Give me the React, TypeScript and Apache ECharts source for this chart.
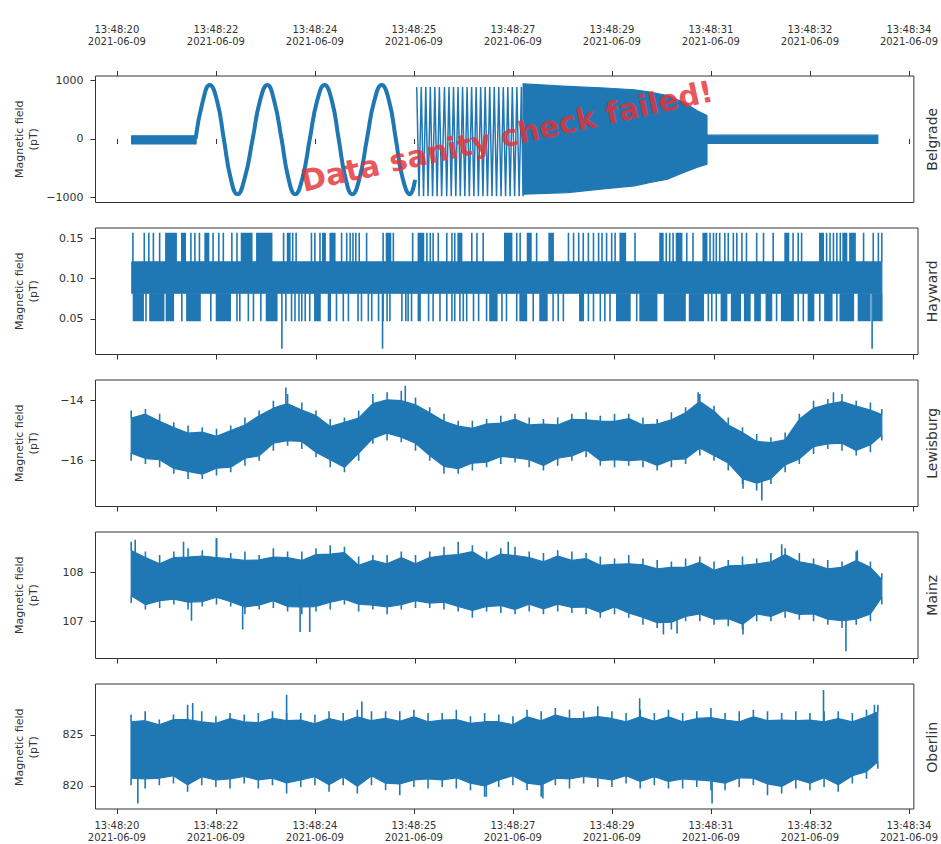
import React, { useEffect, useRef } from "react";
import * as echarts from "echarts";

// ---------- axis ticks ----------
const tickTimes = [20, 21.75, 23.5, 25.25, 27, 28.75, 30.5, 32.25, 34]; // seconds after 13:48:00
const tickLabels = ["13:48:20", "13:48:22", "13:48:24", "13:48:25", "13:48:27", "13:48:29", "13:48:31", "13:48:32", "13:48:34"];
const tickDate = "2021-06-09";

const stations = ["Belgrade", "Hayward", "Lewisburg", "Mainz", "Oberlin"];
const yTicks = [[-1000, 0, 1000], [0.05, 0.1, 0.15], [-16, -14], [107, 108], [820, 825]];
const yTickLabels = [["\u22121000", "0", "1000"], ["0.05", "0.10", "0.15"], ["\u221216", "\u221214"], ["107", "108"], ["820", "825"]];
const yMin = [-1091, 0.0054, -17.53, 106.24, 817.74];
const yMax = [1081, 0.1633, -13.31, 108.82, 830.0];

// ---------- Belgrade ----------
const belgradeFlat1Times = [20.26, 21.4];
const belgradeFlat1Upper = [55, 55];
const belgradeFlat1Lower = [-85, -85];
const belgradeSineTimes = [21.39, 21.52, 21.64, 21.77, 21.89, 22.01, 22.13, 22.26, 22.4, 22.53, 22.66, 22.78, 22.91, 23.03, 23.15, 23.28, 23.41, 23.54, 23.67, 23.8, 23.92, 24.04, 24.16, 24.29, 24.42, 24.55, 24.68, 24.81, 24.93, 25.05, 25.18, 25.27];
const belgradeSineValues = [0, 655, 925, 655, 0, -670, -950, -670, 0, 655, 925, 655, 0, -670, -950, -670, 0, 655, 925, 655, 0, -670, -950, -670, 0, 655, 925, 655, 0, -670, -950, -700];
const belgradeHfTimes = [25.3, 25.34, 25.38, 25.42, 25.46, 25.5, 25.54, 25.58, 25.62, 25.66, 25.7, 25.74, 25.79, 25.83, 25.87, 25.91, 25.95, 25.99, 26.03, 26.07, 26.11, 26.15, 26.19, 26.23, 26.27, 26.31, 26.35, 26.39, 26.43, 26.47, 26.51, 26.55, 26.59, 26.63, 26.67, 26.71, 26.75, 26.79, 26.83, 26.87, 26.91, 26.95, 26.99, 27.03, 27.07, 27.11, 27.15, 27.18];
const belgradeHfValues = [890, -985, 890, -985, 890, -985, 890, -985, 890, -985, 890, -985, 890, -985, 890, -985, 890, -985, 890, -985, 890, -985, 890, -985, 890, -985, 890, -985, 890, -985, 890, -985, 890, -985, 890, -985, 890, -985, 890, -985, 890, -985, 890, -985, 890, -985, 890, -985];
const belgradeDenseTimes = [27.18, 27.97, 28.55, 29.15, 29.43, 29.73, 30.02, 30.25, 30.43];
const belgradeDenseUpper = [948, 902, 879, 845, 803, 746, 631, 488, 402];
const belgradeDenseLower = [-948, -921, -862, -805, -748, -690, -576, -490, -431];
const belgradeFlat2Times = [30.44, 33.45];
const belgradeFlat2Upper = [65, 65];
const belgradeFlat2Lower = [-78, -78];

// ---------- Hayward ----------
const haywardBandTimes = [20.26, 33.45];
const haywardBandLower = [0.082, 0.082];
const haywardBandUpper = [0.121, 0.121];
const haywardLevels = { deep: 0.0125, low: 0.047, bandLow: 0.082, bandHigh: 0.121, high: 0.1575 };
const haywardHighBlocks = [
  [20.28, 20.28], [20.48, 20.48], [20.56, 20.56], [20.64, 20.64], [20.75, 20.75], [20.86, 21.04], [21.14, 21.2], [21.3, 21.3], [21.37, 21.37], [21.45, 21.45], [21.55, 21.61], [21.69, 21.69], [21.79, 21.79], [21.87, 21.87], [22.02, 22.02], [22.11, 22.11], [22.19, 22.37], [22.46, 22.72], [22.93, 22.93], [23.0, 23.04], [23.09, 23.09], [23.15, 23.15], [23.42, 23.42], [23.48, 23.48], [23.57, 23.57], [23.62, 23.66], [23.75, 23.83], [23.95, 23.95], [24.04, 24.04], [24.1, 24.1], [24.15, 24.15], [24.2, 24.2], [24.26, 24.26], [24.39, 24.39], [24.68, 24.68], [24.74, 24.81], [24.86, 24.86], [25.2, 25.2], [25.3, 25.39], [25.45, 25.45], [25.51, 25.51], [25.56, 25.56], [25.65, 25.65], [25.8, 25.8], [25.89, 25.89], [25.94, 25.94], [26.0, 26.06],
  [26.24, 26.24], [26.33, 26.33], [26.44, 26.44], [26.82, 26.94], [27.03, 27.03], [27.09, 27.09], [27.22, 27.28], [27.38, 27.38], [27.6, 27.67], [27.94, 27.94], [28.03, 28.03], [28.12, 28.12], [28.2, 28.2], [28.29, 28.29], [28.38, 28.38], [28.47, 28.47], [28.53, 28.53], [28.61, 28.61], [28.7, 28.7], [28.76, 28.76], [28.85, 28.94], [29.11, 29.11], [29.55, 29.6], [29.66, 29.66], [29.72, 29.72], [29.78, 29.78], [29.84, 29.93], [30.02, 30.02], [30.13, 30.13], [30.31, 30.37], [30.43, 30.43], [30.49, 30.49], [30.54, 30.54], [30.6, 30.6], [30.69, 30.69], [30.75, 30.75], [30.84, 30.84], [30.9, 30.9], [30.99, 30.99], [31.07, 31.07], [31.25, 31.25], [31.37, 31.37], [31.54, 31.54], [31.75, 31.81], [31.89, 31.89], [31.98, 31.98], [32.04, 32.04], [32.36, 32.42], [32.48, 32.48], [32.54, 32.54], [32.6, 32.6], [32.66, 32.66], [32.72, 32.72], [32.77, 32.83], [32.89, 32.98], [33.13, 33.13], [33.3, 33.3], [33.39, 33.39], [33.45, 33.45],
];
const haywardLowBlocks = [
  [20.29, 20.46], [20.51, 20.51], [20.58, 20.82], [20.87, 20.99], [21.14, 21.14], [21.23, 21.46], [21.65, 21.65], [21.75, 21.99], [22.11, 22.11], [22.16, 22.16], [22.31, 22.31], [22.4, 22.4], [22.53, 22.53], [22.63, 22.81], [22.97, 22.97], [23.07, 23.07], [23.13, 23.13], [23.2, 23.2], [23.25, 23.25], [23.31, 23.31], [23.39, 23.39], [23.48, 23.57], [23.72, 23.75], [23.86, 23.86], [23.98, 23.98], [24.07, 24.07], [24.24, 24.24], [24.3, 24.3], [24.42, 24.42], [24.48, 24.48], [24.6, 24.6], [24.68, 24.68], [24.75, 24.75], [24.8, 24.8], [25.01, 25.01], [25.08, 25.08], [25.12, 25.12], [25.18, 25.18], [25.3, 25.33], [25.48, 25.48], [25.56, 25.56], [25.68, 25.68], [25.8, 25.8], [25.89, 25.89], [25.94, 25.94], [26.03, 26.03], [26.09, 26.09], [26.15, 26.15],
  [26.27, 26.27], [26.36, 26.36], [26.5, 26.5], [26.56, 26.68], [26.77, 26.77], [26.85, 26.85], [27.03, 27.03], [27.09, 27.2], [27.32, 27.32], [27.44, 27.56], [27.67, 27.67], [27.76, 27.76], [27.85, 27.85], [28.14, 28.2], [28.29, 28.29], [28.38, 28.38], [28.5, 28.5], [28.58, 28.58], [28.67, 28.67], [28.79, 29.02], [29.14, 29.14], [29.2, 29.49], [29.63, 29.99], [30.07, 30.31], [30.4, 30.4], [30.46, 30.46], [30.54, 30.54], [30.63, 30.72], [30.81, 30.96], [31.04, 31.13], [31.22, 31.31], [31.42, 31.51], [31.6, 31.6], [31.69, 31.89], [31.98, 31.98], [32.07, 32.07], [32.16, 32.25], [32.36, 32.36], [32.45, 32.57], [32.66, 32.66], [32.72, 32.95], [33.04, 33.24], [33.3, 33.45],
];
const haywardDeepTimes = [22.9, 24.67, 33.28];

// ---------- common sampling grid for the noisy stations ----------
const gridTime = [20.25, 20.5, 20.75, 21.0, 21.25, 21.5, 21.75, 22.0, 22.25, 22.5, 22.75, 23.0, 23.25, 23.5, 23.75, 24.0, 24.25, 24.5, 24.75, 25.0, 25.25, 25.5, 25.75, 26.0, 26.25, 26.5, 26.75, 27.0, 27.25, 27.5, 27.75, 28.0, 28.25, 28.5, 28.75, 29.0, 29.25, 29.5, 29.75, 30.0, 30.25, 30.5, 30.75, 31.0, 31.25, 31.5, 31.75, 32.0, 32.25, 32.5, 32.75, 33.0, 33.25, 33.45];

// ---------- Lewisburg (spike tips and solid core) ----------
const lewisburgUpper = [-14.33, -14.28, -14.44, -14.72, -14.83, -14.89, -14.94, -14.83, -14.56, -14.33, -14.0, -13.78, -14.06, -14.33, -14.61, -14.56, -14.33, -13.78, -13.72, -13.67, -13.89, -14.22, -14.44, -14.67, -14.67, -14.61, -14.5, -14.44, -14.56, -14.61, -14.56, -14.44, -14.39, -14.5, -14.44, -14.44, -14.56, -14.61, -14.39, -14.22, -13.78, -14.17, -14.56, -14.89, -15.11, -15.22, -15.06, -14.44, -14.0, -13.94, -13.78, -14.0, -14.06, -14.28];
const lewisburgLower = [-16.0, -16.11, -16.22, -16.44, -16.61, -16.61, -16.5, -16.39, -16.17, -16.0, -15.67, -15.5, -15.61, -15.89, -16.22, -16.39, -16.0, -15.44, -15.33, -15.39, -15.67, -16.0, -16.44, -16.44, -16.33, -16.22, -16.11, -16.06, -16.22, -16.33, -16.17, -16.0, -15.89, -16.17, -16.22, -16.17, -16.22, -16.33, -16.22, -16.11, -15.83, -16.0, -16.33, -16.78, -17.0, -16.78, -16.39, -16.11, -15.78, -15.61, -15.67, -15.83, -15.72, -15.33];
const lewisburgCoreUpper = [-14.58, -14.45, -14.69, -14.9, -15.08, -15.05, -15.19, -15.0, -14.81, -14.5, -14.25, -14.1, -14.31, -14.5, -14.86, -14.72, -14.58, -14.1, -13.97, -14.0, -14.14, -14.4, -14.69, -14.85, -14.92, -14.78, -14.75, -14.62, -14.81, -14.78, -14.81, -14.62, -14.64, -14.68, -14.69, -14.6, -14.81, -14.78, -14.64, -14.4, -14.03, -14.35, -14.81, -15.06, -15.36, -15.4, -15.31, -14.62, -14.25, -14.12, -14.03, -14.18, -14.31, -14.46];
const lewisburgCoreLower = [-15.75, -15.93, -15.97, -16.26, -16.36, -16.45, -16.25, -16.22, -15.92, -15.84, -15.42, -15.33, -15.36, -15.72, -15.97, -16.22, -15.75, -15.26, -15.08, -15.22, -15.42, -15.83, -16.19, -16.27, -16.08, -16.05, -15.86, -15.9, -15.97, -16.16, -15.92, -15.84, -15.64, -16.0, -15.97, -16.0, -15.97, -16.16, -15.97, -15.94, -15.58, -15.83, -16.08, -16.6, -16.75, -16.6, -16.14, -15.94, -15.53, -15.44, -15.42, -15.66, -15.47, -15.15];
const lewisburgSpikes = [[22.97, -13.56], [25.07, -13.5], [30.22, -13.72], [32.6, -13.72], [31.01, -16.94], [31.34, -17.33]];

// ---------- Mainz ----------
const mainzUpper = [108.62, 108.42, 108.35, 108.42, 108.49, 108.45, 108.69, 108.39, 108.42, 108.35, 108.49, 108.42, 108.42, 108.49, 108.55, 108.52, 108.32, 108.35, 108.35, 108.42, 108.35, 108.42, 108.52, 108.62, 108.55, 108.42, 108.49, 108.52, 108.42, 108.39, 108.45, 108.42, 108.39, 108.32, 108.28, 108.35, 108.28, 108.25, 108.22, 108.28, 108.32, 108.22, 108.25, 108.32, 108.28, 108.39, 108.49, 108.39, 108.28, 108.25, 108.22, 108.42, 108.22, 107.98];
const mainzLower = [107.37, 107.24, 107.27, 107.34, 107.24, 107.3, 107.34, 107.3, 107.14, 107.24, 107.27, 107.2, 107.14, 107.2, 107.24, 107.34, 107.2, 107.24, 107.14, 107.24, 107.27, 107.27, 107.24, 107.2, 107.07, 107.2, 107.17, 107.14, 107.2, 107.14, 107.2, 107.17, 107.14, 107.07, 107.14, 107.07, 106.93, 106.86, 106.83, 107.0, 107.0, 106.93, 106.9, 106.83, 107.0, 107.0, 107.07, 107.03, 107.0, 106.93, 106.86, 106.93, 107.0, 107.34];
const mainzCoreUpper = [108.44, 108.3, 108.17, 108.3, 108.31, 108.33, 108.3, 108.27, 108.24, 108.25, 108.31, 108.3, 108.24, 108.36, 108.37, 108.4, 108.14, 108.24, 108.17, 108.3, 108.17, 108.3, 108.34, 108.36, 108.42, 108.24, 108.37, 108.34, 108.3, 108.21, 108.33, 108.24, 108.28, 108.14, 108.16, 108.17, 108.15, 108.07, 108.1, 108.1, 108.2, 108.04, 108.13, 108.14, 108.17, 108.21, 108.36, 108.21, 108.16, 108.07, 108.1, 108.24, 108.1, 107.85];
const mainzCoreLower = [107.52, 107.34, 107.42, 107.45, 107.39, 107.4, 107.49, 107.4, 107.29, 107.33, 107.42, 107.3, 107.29, 107.3, 107.39, 107.45, 107.35, 107.33, 107.29, 107.34, 107.42, 107.37, 107.39, 107.3, 107.22, 107.3, 107.32, 107.24, 107.35, 107.25, 107.35, 107.28, 107.29, 107.18, 107.29, 107.17, 107.08, 106.97, 106.98, 107.1, 107.15, 107.04, 107.05, 106.94, 107.15, 107.1, 107.22, 107.14, 107.15, 107.04, 107.01, 107.04, 107.15, 107.49];
const mainzSpikes = [[20.32, 108.66], [21.17, 108.62], [21.75, 108.7], [26.88, 108.62], [31.69, 108.57], [33.02, 108.45], [21.31, 107.01], [22.21, 106.83], [23.22, 106.78], [23.39, 106.78], [29.61, 106.73], [29.85, 106.75], [31.01, 106.73], [32.82, 106.39]];

// ---------- Oberlin ----------
const oberlinUpper = [827.0, 827.32, 826.52, 827.0, 827.97, 827.32, 826.84, 827.16, 827.0, 827.16, 827.32, 827.16, 827.16, 827.0, 827.32, 827.16, 827.48, 827.32, 827.32, 827.32, 827.48, 827.16, 827.16, 827.48, 826.84, 827.16, 827.0, 826.84, 827.48, 827.32, 827.65, 827.48, 827.32, 827.81, 827.32, 827.16, 827.48, 827.16, 827.48, 827.16, 827.32, 827.65, 827.16, 827.32, 827.48, 827.32, 827.16, 827.32, 827.16, 827.32, 827.32, 827.16, 827.48, 827.97];
const oberlinLower = [820.06, 819.74, 820.06, 820.23, 819.42, 820.06, 819.9, 819.74, 820.23, 819.74, 820.06, 819.26, 819.9, 820.06, 819.42, 820.06, 819.26, 820.06, 819.58, 819.1, 819.9, 819.74, 819.9, 819.74, 819.58, 818.94, 819.9, 820.06, 819.58, 818.94, 820.06, 819.74, 820.23, 819.9, 819.9, 820.23, 819.74, 820.06, 819.74, 819.74, 819.9, 819.58, 819.58, 819.9, 820.06, 819.1, 819.26, 819.74, 819.58, 819.9, 819.42, 820.23, 820.71, 821.68];
const oberlinCoreUpper = [826.3, 826.4, 826.0, 826.5, 826.5, 826.3, 826.14, 826.6, 826.3, 826.2, 826.62, 826.4, 826.46, 826.1, 826.62, 826.3, 826.78, 826.4, 826.62, 826.35, 826.78, 826.3, 826.46, 826.5, 826.14, 826.3, 826.3, 826.0, 826.78, 826.4, 826.95, 826.6, 826.62, 826.8, 826.62, 826.3, 826.78, 826.35, 826.78, 826.3, 826.62, 826.7, 826.46, 826.3, 826.78, 826.4, 826.46, 826.4, 826.46, 826.3, 826.62, 826.3, 826.78, 827.27];
const oberlinCoreLower = [820.76, 820.7, 820.76, 821.0, 820.12, 820.9, 820.6, 820.7, 820.93, 820.6, 820.76, 820.3, 820.6, 820.9, 820.12, 820.9, 819.96, 821.0, 820.28, 820.2, 820.6, 820.7, 820.6, 820.8, 820.28, 820.0, 820.6, 821.0, 820.28, 820.1, 820.76, 820.7, 820.93, 820.8, 820.6, 821.0, 820.44, 820.9, 820.44, 820.7, 820.6, 820.5, 820.28, 820.8, 820.76, 820.2, 819.96, 820.7, 820.28, 820.8, 820.12, 821.0, 821.41, 822.38];
const oberlinSpikes = [[23.0, 828.94], [21.34, 828.13], [24.33, 828.29], [29.24, 828.61], [32.49, 829.42], [33.39, 827.97], [20.37, 818.29], [30.52, 818.29], [27.53, 818.77], [26.53, 818.94]];

// ---------- layout / style ----------
const BLUE = "#1f77b4";
const TXT = "#333333";
const FONT = "DejaVu Sans";
const X_MIN = 19.622;
const X_MAX = 34.087;
const GRID_LEFT = 95.5;
const GRID_WIDTH = 822.5;
const GRID_TOPS = [76, 228, 380, 532, 684];
const GRID_H = 126.5;

function nearestIndex(arr: number[], v: number) {
  let best = 0;
  for (let k = 1; k < arr.length; k++) if (Math.abs(arr[k] - v) < Math.abs(arr[best] - v)) best = k;
  return best;
}

// filled band between a lower and an upper envelope, drawn as one polygon through the axes' scales
function bandSeries(gi: number, times: number[], lower: number[], upper: number[]) {
  return {
    type: "custom", xAxisIndex: gi, yAxisIndex: gi, silent: true, clip: true,
    data: times.map((t, k) => [t, lower[k], upper[k]]),
    encode: { x: 0, y: [1, 2] },
    renderItem: (params: any, api: any) => {
      if (params.dataIndex !== 0) return null;
      const pts: number[][] = [];
      for (let k = 0; k < times.length; k++) pts.push(api.coord([times[k], upper[k]]));
      for (let k = times.length - 1; k >= 0; k--) pts.push(api.coord([times[k], lower[k]]));
      return { type: "polygon", shape: { points: pts }, style: { fill: BLUE, stroke: BLUE, lineWidth: 1.2, lineJoin: "round" } };
    },
  };
}
// filled rectangles [start, end] between two levels (dense runs of samples)
function blockSeries(gi: number, blocks: number[][], base: number, level: number) {
  return {
    type: "custom", xAxisIndex: gi, yAxisIndex: gi, silent: true, clip: true,
    data: blocks.map(([s, e]) => [s, e, base, level]),
    encode: { x: [0, 1], y: [2, 3] },
    renderItem: (params: any, api: any) => {
      const p1 = api.coord([api.value(0), api.value(3)]);
      const p2 = api.coord([api.value(1), api.value(2)]);
      return {
        type: "rect",
        shape: { x: p1[0] - 0.8, y: Math.min(p1[1], p2[1]), width: Math.max(p2[0] - p1[0], 0) + 1.6, height: Math.abs(p2[1] - p1[1]) },
        style: { fill: BLUE },
      };
    },
  };
}
function lineSeries(gi: number, data: any[], width = 1.5, smooth: any = false) {
  return { type: "line", xAxisIndex: gi, yAxisIndex: gi, symbol: "none", silent: true, smooth, data, lineStyle: { color: BLUE, width } };
}
// vertical strokes from the solid core out to each sampled spike tip
function combData(core: number[], tips: number[]) {
  const d: any[] = [];
  gridTime.forEach((t, k) => d.push([t, core[k]], [t, tips[k]], [t, "-"]));
  return d;
}
function spikeData(spikes: number[][], lower: number[], upper: number[]) {
  const d: any[] = [];
  spikes.forEach(([t, v]) => {
    const k = nearestIndex(gridTime, t);
    d.push([t, (lower[k] + upper[k]) / 2], [t, v], [t, "-"]);
  });
  return d;
}

function noisyStation(gi: number, lower: number[], upper: number[], coreLower: number[], coreUpper: number[], spikes: number[][]) {
  return [
    bandSeries(gi, gridTime, coreLower, coreUpper),
    lineSeries(gi, combData(coreUpper, upper), 1.6),
    lineSeries(gi, combData(coreLower, lower), 1.6),
    lineSeries(gi, spikeData(spikes, coreLower, coreUpper), 1.6),
  ];
}

function buildOption() {
  const grid = GRID_TOPS.map((top) => ({ left: GRID_LEFT, top, width: GRID_WIDTH, height: GRID_H, show: true, borderColor: TXT, borderWidth: 1, backgroundColor: "transparent" }));
  const xLabelFmt = (v: number) => tickLabels[nearestIndex(tickTimes, v)] + "\n" + tickDate;
  const xAxis: any[] = GRID_TOPS.map((_, i) => ({
    gridIndex: i, type: "value", min: X_MIN, max: X_MAX, position: "bottom",
    axisLine: { show: false },
    axisTick: { show: true, customValues: tickTimes, length: 5, lineStyle: { color: TXT, width: 1 } },
    axisLabel: { show: i === 4, customValues: tickTimes, formatter: xLabelFmt, margin: 10, fontSize: 10, lineHeight: 12.5, color: TXT, fontFamily: FONT },
    splitLine: { show: false },
  }));
  xAxis.push({
    gridIndex: 0, type: "value", min: X_MIN, max: X_MAX, position: "top",
    axisLine: { show: false },
    axisTick: { show: true, customValues: tickTimes, length: 5, lineStyle: { color: TXT, width: 1 } },
    axisLabel: { show: true, customValues: tickTimes, formatter: xLabelFmt, margin: 28, fontSize: 10, lineHeight: 12.5, color: TXT, fontFamily: FONT },
    splitLine: { show: false },
  });
  const yAxis = GRID_TOPS.map((_, i) => ({
    gridIndex: i, type: "value", min: yMin[i], max: yMax[i],
    axisLine: { show: false },
    axisTick: { show: true, customValues: yTicks[i], length: 5, lineStyle: { color: TXT, width: 1 } },
    axisLabel: { customValues: yTicks[i], formatter: (v: number) => yTickLabels[i][nearestIndex(yTicks[i], v)], margin: 12, fontSize: 11, color: TXT, fontFamily: FONT },
    splitLine: { show: false },
  }));

  const series: any[] = [];
  // Belgrade
  series.push(bandSeries(0, belgradeFlat1Times, belgradeFlat1Lower, belgradeFlat1Upper));
  series.push(lineSeries(0, belgradeSineTimes.map((t, k) => [t, belgradeSineValues[k]]), 4, 0.5));
  series.push(lineSeries(0, belgradeHfTimes.map((t, k) => [t, belgradeHfValues[k]]), 1.5));
  series.push(bandSeries(0, belgradeDenseTimes, belgradeDenseLower, belgradeDenseUpper));
  series.push(bandSeries(0, belgradeFlat2Times, belgradeFlat2Lower, belgradeFlat2Upper));
  // Hayward
  series.push(bandSeries(1, haywardBandTimes, haywardBandLower, haywardBandUpper));
  series.push(blockSeries(1, haywardHighBlocks, haywardLevels.bandHigh, haywardLevels.high));
  series.push(blockSeries(1, haywardLowBlocks, haywardLevels.bandLow, haywardLevels.low));
  series.push(blockSeries(1, haywardDeepTimes.map((t) => [t, t]), haywardLevels.bandLow, haywardLevels.deep));
  // noisy stations
  series.push(...noisyStation(2, lewisburgLower, lewisburgUpper, lewisburgCoreLower, lewisburgCoreUpper, lewisburgSpikes));
  series.push(...noisyStation(3, mainzLower, mainzUpper, mainzCoreLower, mainzCoreUpper, mainzSpikes));
  series.push(...noisyStation(4, oberlinLower, oberlinUpper, oberlinCoreLower, oberlinCoreUpper, oberlinSpikes));

  const graphic: any[] = [];
  stations.forEach((s, i) => {
    const cy = GRID_TOPS[i] + GRID_H / 2;
    graphic.push({ type: "text", x: 26, y: cy, rotation: Math.PI / 2, silent: true,
      style: { text: "Magnetic field\n(pT)", fontSize: 11, lineHeight: 14, fill: TXT, fontFamily: FONT, align: "center", verticalAlign: "middle" } });
    graphic.push({ type: "text", x: 931.5, y: cy, rotation: Math.PI / 2, silent: true,
      style: { text: s, fontSize: 14, fill: TXT, fontFamily: FONT, align: "center", verticalAlign: "middle" } });
  });
  graphic.push({ type: "text", x: 507, y: 136, rotation: (12.5 * Math.PI) / 180, z: 100, silent: true,
    style: { text: "Data sanity check failed!", fontSize: 30, fontWeight: "bold", fontFamily: FONT, fill: "rgba(228,50,55,0.82)", align: "center", verticalAlign: "middle" } });

  return { animation: false, backgroundColor: "#ffffff", textStyle: { fontFamily: FONT }, grid, xAxis, yAxis, series, graphic };
}

export default function App() {
  const ref = useRef<HTMLDivElement>(null);
  useEffect(() => {
    const chart = echarts.init(ref.current!, null, { renderer: "svg" });
    chart.setOption(buildOption() as any);
    return () => chart.dispose();
  }, []);
  return <div ref={ref} style={{ position: "absolute", left: 0, top: 0, width: 941, height: 844, background: "#fff" }} />;
}
